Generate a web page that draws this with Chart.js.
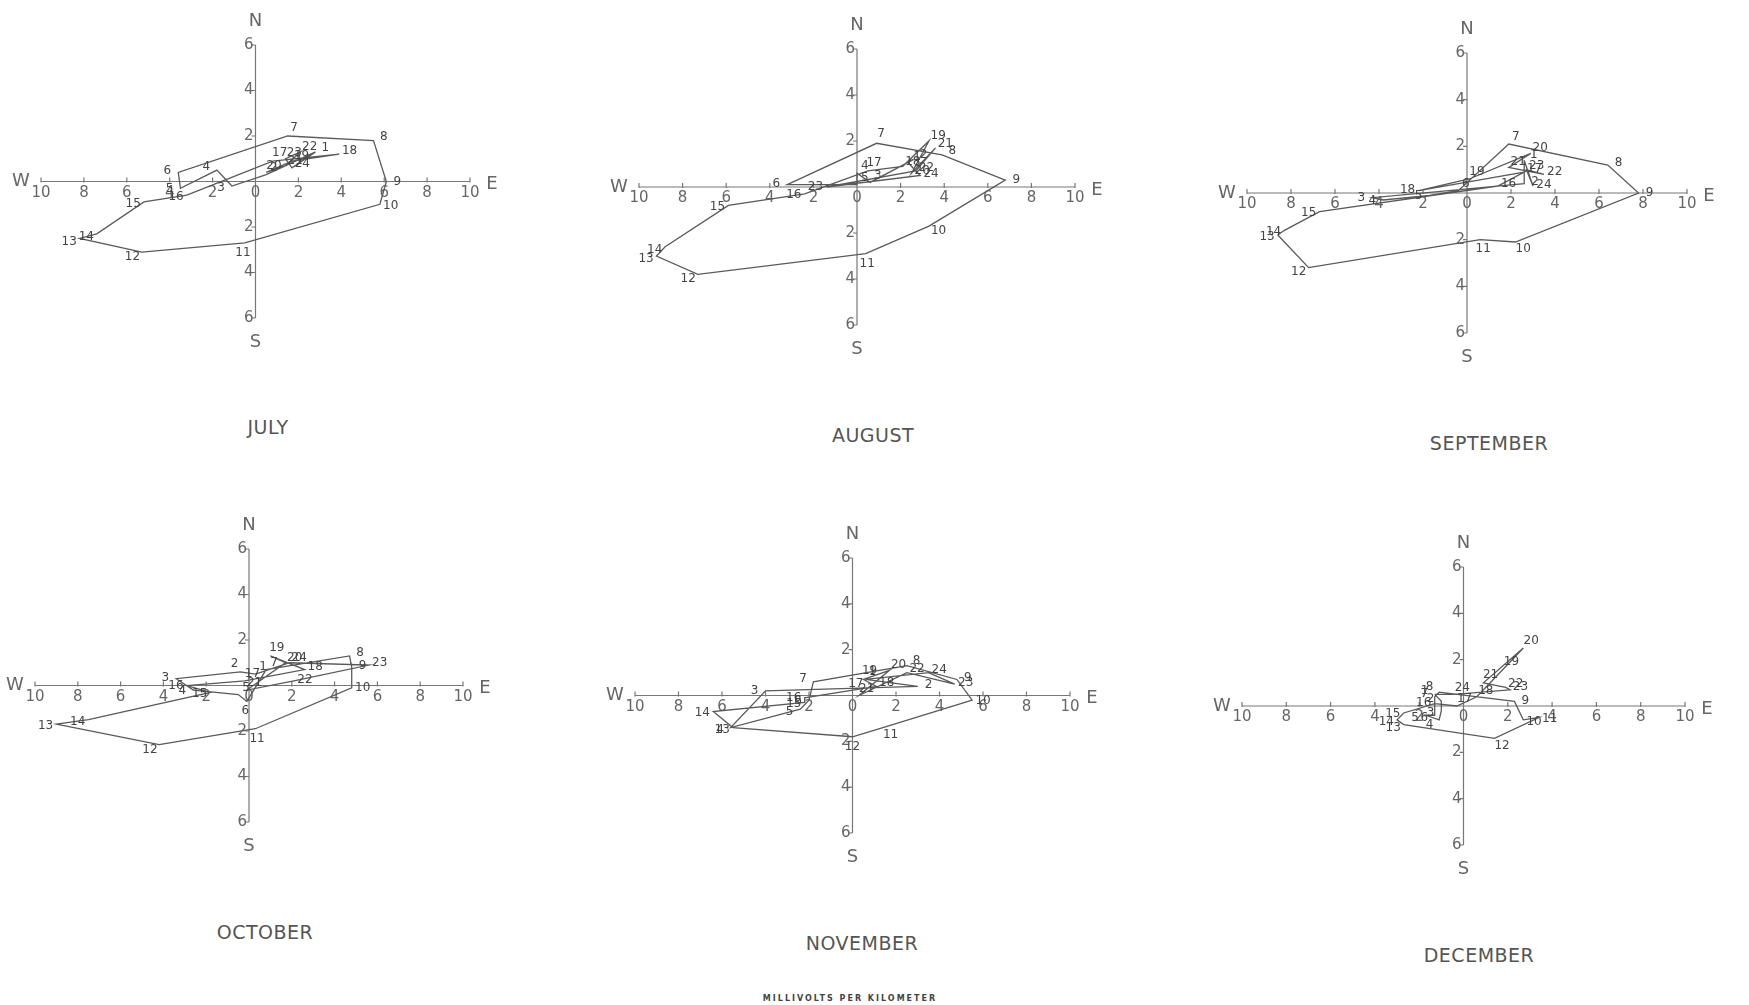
<!DOCTYPE html>
<html>
<head>
<meta charset="utf-8">
<script src="https://cdn.jsdelivr.net/npm/chart.js@4"></script>
<style>
  body { margin: 0; background: #fff; width: 1749px; height: 1005px; position: relative; overflow: hidden;
         font-family: "DejaVu Sans", sans-serif; color: #555; }
  canvas { position: absolute; }
  .title { position: absolute; font-size: 19px; letter-spacing: 0.5px; transform: translate(-50%, -50%); color: #555; }
  .foot { position: absolute; left: 850px; top: 998px; transform: translate(-50%, -50%);
          font-size: 8px; font-weight: bold; letter-spacing: 2px; color: #444; }
</style>
</head>
<body>

<script>
// hour of each vector, 1..24
const hours = [1,2,3,4,5,6,7,8,9,10,11,12,13,14,15,16,17,18,19,20,21,22,23,24];
const xTicks = [-10,-8,-6,-4,-2,0,2,4,6,8,10];
const yTicks = [-6,-4,-2,2,4,6];
const compass = ['N','S','W','E'];

// east (+) / west (-) and north (+) / south (-) components, millivolts per km
const julyE = [2.8,0.5,-1.1,-1.8,-3.5,-3.6,1.5,5.5,6.1,5.8,-0.5,-5.3,-8.2,-7.4,-5.2,-3.2,0.8,3.9,1.7,0.5,1.4,2.1,1.4,1.7];
const julyN = [1.3,0.3,-0.2,0.5,-0.3,0.4,2.0,1.8,0.0,-1.0,-2.7,-3.1,-2.5,-2.3,-0.9,-0.6,0.9,1.2,0.9,0.4,0.7,1.3,1.0,0.6];

const augE = [2.3,2.6,0.6,0.0,0.0,-3.2,0.9,3.9,6.8,3.3,0.4,-7.3,-9.2,-8.8,-5.9,-2.4,0.5,2.1,3.3,2.5,3.6,2.7,-1.4,2.9];
const augN = [1.1,1.2,0.2,0.6,0.1,0.1,1.9,1.4,0.3,-1.7,-2.9,-3.8,-3.0,-2.6,-0.8,-0.3,0.7,0.9,2.0,0.6,1.7,0.7,0.0,0.5];

const sepE = [2.6,2.6,-4.3,-3.8,-1.7,-0.4,1.9,6.4,7.8,2.2,0.6,-7.2,-8.6,-8.3,-6.7,1.4,2.6,-2.2,0.1,2.9,1.9,3.5,2.7,3.0];
const sepN = [1.4,0.4,-0.2,-0.3,-0.1,0.1,2.1,1.2,0.0,-2.1,-2.0,-3.2,-1.8,-1.6,-0.8,0.3,0.9,0.1,0.6,1.7,1.1,0.8,1.0,0.3];

const octE = [0.3,-0.4,-3.4,-2.6,-0.5,-0.1,0.8,4.7,4.8,4.8,0.3,-4.2,-9.0,-7.5,-1.8,-2.9,-0.2,2.6,1.0,1.7,-0.1,2.1,5.6,1.9];
const octN = [0.5,0.6,0.3,-0.2,-0.4,-0.7,0.7,1.3,0.8,-0.1,-1.9,-2.6,-1.7,-1.5,-0.3,0.0,0.2,0.7,1.3,1.0,-0.2,0.2,0.9,1.0];

const novE = [0.6,3.0,-4.0,-5.6,-2.4,-2.0,-1.8,2.5,4.8,5.5,1.4,0.0,-5.5,-6.4,-2.2,-2.2,-0.2,1.1,0.5,1.7,0.3,2.5,4.7,3.5];
const novN = [0.7,0.4,0.2,-1.4,-0.6,-0.2,0.6,1.3,0.7,-0.2,-1.4,-1.8,-1.4,-0.7,-0.3,-0.1,0.2,0.4,0.7,1.1,0.0,1.0,0.5,1.0];

const decE = [-1.3,-1.0,-1.0,-1.1,-1.7,-1.3,-1.3,-1.1,2.3,2.7,3.4,1.4,-2.7,-3.0,-2.7,-1.3,-0.3,0.6,1.8,2.7,0.9,1.9,2.1,-0.4];
const decN = [0.5,0.2,-0.2,-0.6,-0.4,-0.4,0.4,0.6,0.2,-0.6,-0.5,-1.4,-0.8,-0.6,-0.3,0.1,0.0,0.4,1.6,2.5,1.0,0.8,0.7,0.5];

const months = ['JULY','AUGUST','SEPTEMBER','OCTOBER','NOVEMBER','DECEMBER'];
const series = [[julyE,julyN],[augE,augN],[sepE,sepN],[octE,octN],[novE,novN],[decE,decN]];

// page layout: pixel box of the -10..10 / -6..6 axes, and title centre
const frames = [
  {x0: 41,   x1: 470,  y0: 45,  y1: 318, tx: 268,  ty: 427},
  {x0: 639,  x1: 1075, y0: 49,  y1: 325, tx: 873,  ty: 435},
  {x0: 1247, x1: 1687, y0: 53,  y1: 333, tx: 1489, ty: 443},
  {x0: 35,   x1: 463,  y0: 549, y1: 822, tx: 265,  ty: 932},
  {x0: 635,  x1: 1070, y0: 558, y1: 833, tx: 862,  ty: 943},
  {x0: 1242, x1: 1685, y0: 567, y1: 845, tx: 1479, ty: 955}
];
const PAD = 45;
const INK = '#5a5a5a';

const compassAxes = {
  id: 'compassAxes',
  beforeDatasetsDraw(chart) {
    const {ctx, scales: {x, y}} = chart;
    const ox = x.getPixelForValue(0), oy = y.getPixelForValue(0);
    ctx.save();
    ctx.strokeStyle = '#777';
    ctx.lineWidth = 1.2;
    ctx.beginPath();
    ctx.moveTo(x.getPixelForValue(-10), oy);
    ctx.lineTo(x.getPixelForValue(10), oy);
    ctx.moveTo(ox, y.getPixelForValue(6));
    ctx.lineTo(ox, y.getPixelForValue(-6));
    xTicks.forEach(v => {
      if (v === 0) return;
      const px = x.getPixelForValue(v);
      ctx.moveTo(px, oy - 4);
      ctx.lineTo(px, oy + 1);
    });
    yTicks.forEach(v => {
      const py = y.getPixelForValue(v);
      ctx.moveTo(ox - 4, py);
      ctx.lineTo(ox, py);
    });
    ctx.stroke();

    ctx.fillStyle = '#666';
    ctx.font = '15px "DejaVu Sans"';
    ctx.textAlign = 'center';
    ctx.textBaseline = 'top';
    xTicks.forEach(v => ctx.fillText(String(Math.abs(v)), x.getPixelForValue(v), oy + 4));
    ctx.textAlign = 'right';
    ctx.textBaseline = 'middle';
    yTicks.forEach(v => ctx.fillText(String(Math.abs(v)), ox - 2, y.getPixelForValue(v)));

    ctx.font = '18px "DejaVu Sans"';
    ctx.textAlign = 'center';
    ctx.fillText(compass[0], ox, y.getPixelForValue(6) - 24);
    ctx.fillText(compass[1], ox, y.getPixelForValue(-6) + 24);
    ctx.fillText(compass[2], x.getPixelForValue(-10) - 20, oy);
    ctx.fillText(compass[3], x.getPixelForValue(10) + 22, oy + 3);
    ctx.restore();
  },
  afterDatasetsDraw(chart) {
    const {ctx, scales: {x, y}} = chart;
    const ox = x.getPixelForValue(0), oy = y.getPixelForValue(0);
    const pts = chart.data.datasets[0].data;
    ctx.save();
    ctx.fillStyle = '#444';
    ctx.font = '12px "DejaVu Sans"';
    ctx.textAlign = 'center';
    ctx.textBaseline = 'middle';
    hours.forEach((h, i) => {
      const px = x.getPixelForValue(pts[i].x), py = y.getPixelForValue(pts[i].y);
      let dx = px - ox, dy = py - oy;
      const len = Math.hypot(dx, dy);
      if (len < 15) { dx = 0.7; dy = -0.7; } else { dx /= len; dy /= len; }
      ctx.fillText(String(h), px + dx * 11, py + dy * 10);
    });
    ctx.restore();
  }
};

months.forEach((name, k) => {
  const f = frames[k];
  const [east, north] = series[k];
  const canvas = document.createElement('canvas');
  const w = f.x1 - f.x0 + 2 * PAD, h = f.y1 - f.y0 + 2 * PAD;
  canvas.width = w;
  canvas.height = h;
  canvas.style.left = (f.x0 - PAD) + 'px';
  canvas.style.top = (f.y0 - PAD) + 'px';
  canvas.style.width = w + 'px';
  canvas.style.height = h + 'px';
  document.body.appendChild(canvas);

  const points = hours.map((hr, i) => ({x: east[i], y: north[i]}));
  const loop = points.concat([points[0]]);

  new Chart(canvas, {
    type: 'scatter',
    data: {
      datasets: [{
        data: loop,
        showLine: true,
        borderColor: INK,
        borderWidth: 1.3,
        pointRadius: 0,
        tension: 0
      }]
    },
    options: {
      responsive: false,
      animation: false,
      layout: { padding: PAD },
      plugins: { legend: { display: false }, tooltip: { enabled: false } },
      scales: {
        x: { type: 'linear', min: -10, max: 10, display: false },
        y: { type: 'linear', min: -6, max: 6, display: false }
      }
    },
    plugins: [compassAxes]
  });

  const t = document.createElement('div');
  t.className = 'title';
  t.textContent = name;
  t.style.left = f.tx + 'px';
  t.style.top = f.ty + 'px';
  document.body.appendChild(t);
});

const foot = document.createElement('div');
foot.className = 'foot';
foot.textContent = 'MILLIVOLTS PER KILOMETER';
document.body.appendChild(foot);
</script>
</body>
</html>
